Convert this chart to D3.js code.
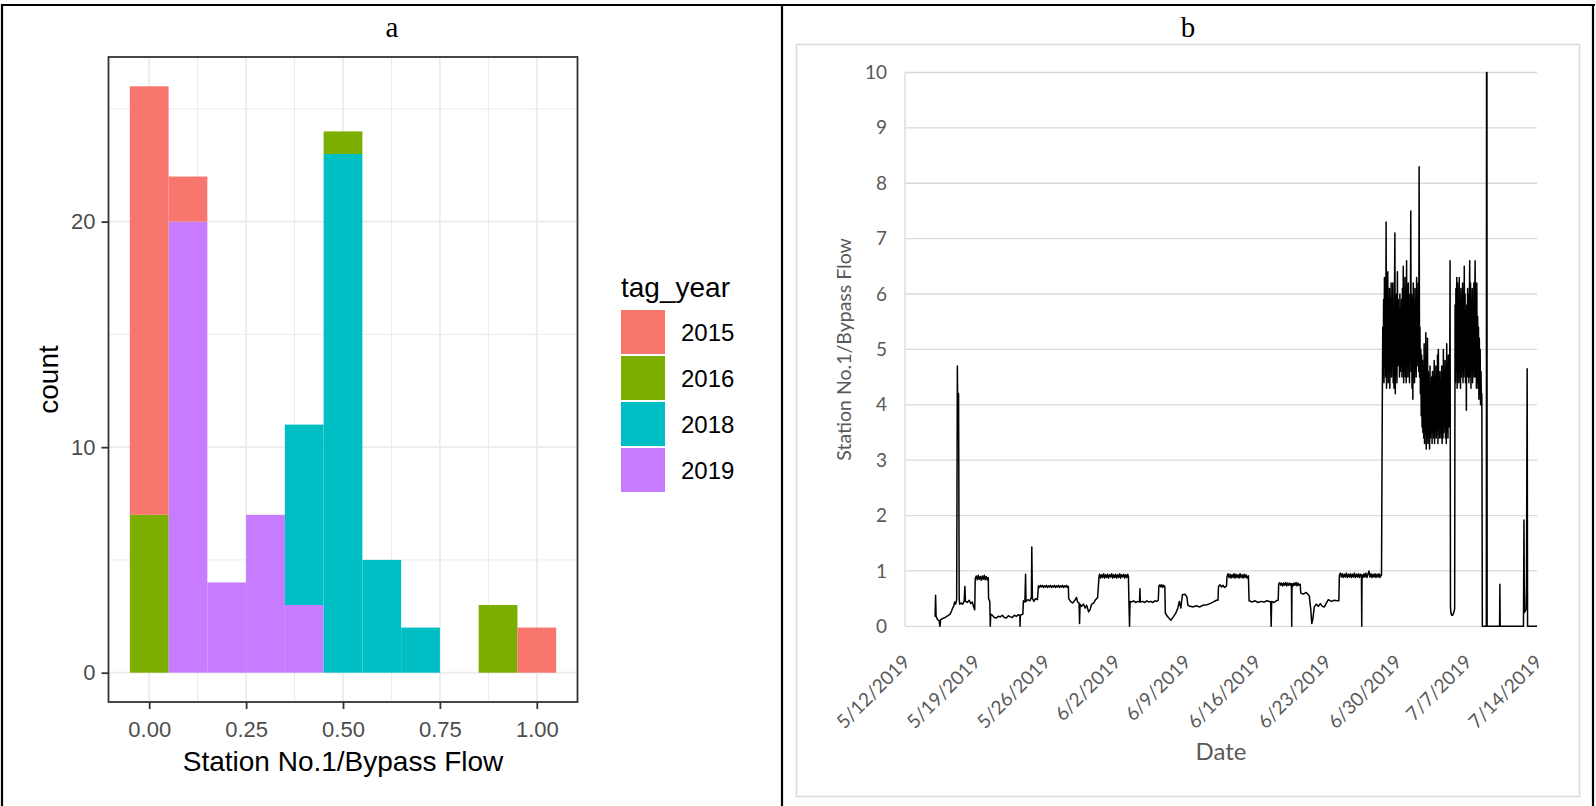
<!DOCTYPE html>
<html>
<head>
<meta charset="utf-8">
<script src="https://cdn.jsdelivr.net/npm/d3@7"></script>
<style>
  html, body { margin: 0; padding: 0; background: #fff; }
  svg { display: block; }
</style>
</head>
<body>
<svg id="fig" width="1596" height="806"></svg>
<script>
// ---------- Panel a: histogram of Station No.1 / bypass flow ratio, stacked by tag year ----------
const binCenters = [0, 0.1, 0.2, 0.3, 0.4, 0.5, 0.6, 0.7, 0.8, 0.9, 1.0];
const tagYears   = ["2015", "2016", "2018", "2019"];
const count2015  = [19, 2, 0, 0, 0, 0, 0, 0, 0, 0, 2];
const count2016  = [7, 0, 0, 0, 0, 1, 0, 0, 0, 3, 0];
const count2018  = [0, 0, 0, 0, 8, 23, 5, 2, 0, 0, 0];
const count2019  = [0, 20, 4, 7, 3, 0, 0, 0, 0, 0, 0];
const yearColors = ["#F8766D", "#7CAE00", "#00BFC4", "#C77CFF"];
const histXTicks = [0, 0.25, 0.5, 0.75, 1.0];
const histXMinor = [0.125, 0.375, 0.625, 0.875];
const histYTicks = [0, 10, 20];
const histYMinor = [5, 15, 25];

// ---------- Panel b: Station No.1 / bypass flow over time (2019) ----------
// readings given as [days after series start, ratio]
const seriesStart = "2019-05-12";
const flowEarly = [
  [3.00,0.17],[3.05,0.56],[3.10,0.18],[3.25,0.12],[3.40,0.10],[3.48,0.00],[3.55,0.12],[3.75,0.14],
  [4.00,0.16],[4.25,0.19],[4.50,0.22],[4.65,0.28],[4.75,0.33],[4.85,0.36],[4.95,0.44],[5.05,0.40],
  [5.15,0.48],[5.22,4.70],[5.28,3.40],[5.34,4.20],[5.40,0.50],[5.45,0.40],[5.60,0.42],[5.75,0.40],
  [5.90,0.46],[5.97,0.72],[6.03,0.45],[6.20,0.43],[6.40,0.47],[6.55,0.41],[6.70,0.44],[6.85,0.35],
  [6.95,0.30],[7.00,0.86],[7.10,0.91],[7.20,0.84],[7.30,0.92],[7.40,0.85],[7.50,0.90],[7.60,0.83],
  [7.70,0.91],[7.80,0.85],[7.90,0.92],[8.00,0.84],[8.10,0.90],[8.20,0.84],[8.30,0.88],[8.33,0.50],
  [8.45,0.45],[8.50,0.00],[8.55,0.22],[8.70,0.20],[8.90,0.16],[9.10,0.15],[9.30,0.18],[9.50,0.17],
  [9.70,0.20],[9.90,0.16],[10.10,0.15],[10.30,0.19],[10.50,0.17],[10.70,0.16],[10.90,0.20],[11.10,0.18],
  [11.30,0.21],[11.45,0.19],[11.47,0.00],[11.50,0.20],[11.75,0.22],[11.80,0.46],[11.95,0.44],[12.02,0.94],
  [12.06,0.45],[12.25,0.48],[12.45,0.46],[12.60,0.52],[12.64,1.43],[12.70,0.50],[12.85,0.45],[13.00,0.50],
  [13.20,0.48],[13.30,0.73],[13.40,0.70],[13.50,0.74],[13.60,0.71],[13.70,0.74],[13.80,0.70],[13.90,0.73],
  [14.00,0.71],[14.10,0.74],[14.20,0.70],[14.30,0.73],[14.40,0.71],[14.50,0.74],[14.60,0.70],[14.70,0.73],
  [14.80,0.71],[14.90,0.74],[15.00,0.70],[15.10,0.73],[15.20,0.71],[15.30,0.74],[15.40,0.70],[15.50,0.73],
  [15.60,0.71],[15.70,0.74],[15.80,0.70],[15.90,0.73],[16.00,0.71],[16.10,0.74],[16.20,0.70],[16.28,0.72],
  [16.32,0.50],[16.50,0.45],[16.70,0.42],[16.90,0.46],[17.10,0.52],[17.20,0.44],[17.35,0.42],[17.40,0.05],
  [17.45,0.40],[17.60,0.36],[17.80,0.40],[17.95,0.33],[18.10,0.38],[18.30,0.26],[18.45,0.30],[18.60,0.40],
  [18.80,0.42],[19.00,0.48],[19.20,0.52],[19.34,0.90],[19.40,0.94],[19.50,0.87],[19.60,0.93],[19.70,0.88],
  [19.80,0.95],[19.90,0.87],[20.00,0.93],[20.10,0.88],[20.20,0.94],[20.30,0.87],[20.40,0.93],[20.50,0.89],
  [20.60,0.95],[20.70,0.87],[20.80,0.93],[20.90,0.88],[21.00,0.94],[21.10,0.87],[21.20,0.93],[21.30,0.88],
  [21.40,0.95],[21.50,0.87],[21.60,0.93],[21.70,0.89],[21.80,0.94],[21.90,0.87],[22.00,0.93],[22.10,0.88],
  [22.20,0.94],[22.27,0.90]
];
const flowMid = [
  [22.32,0.46],[22.38,0.00],[22.44,0.45],[22.60,0.44],[22.80,0.46],[23.00,0.43],[23.20,0.45],[23.38,0.44],
  [23.42,0.68],[23.46,0.44],[23.70,0.45],[23.90,0.43],[24.10,0.46],[24.30,0.44],[24.50,0.45],[24.70,0.43],
  [24.90,0.46],[25.10,0.45],[25.25,0.47],[25.30,0.72],[25.40,0.75],[25.50,0.71],[25.60,0.75],[25.70,0.70],
  [25.80,0.74],[25.90,0.72],[25.95,0.24],[26.15,0.18],[26.30,0.15],[26.50,0.11],[26.75,0.17],[27.00,0.24],
  [27.20,0.33],[27.35,0.45],[27.50,0.33],[27.65,0.57],[27.90,0.58],[28.10,0.53],[28.20,0.38],[28.40,0.36],
  [28.75,0.35],[29.00,0.37],[29.40,0.35],[29.70,0.38],[30.10,0.39],[30.40,0.41],[30.75,0.44],[31.05,0.47],
  [31.20,0.47],[31.25,0.72],[31.40,0.75],[31.55,0.71],[31.70,0.74],[31.85,0.70],[32.05,0.73],[32.10,0.90],
  [32.20,0.95],[32.30,0.88],[32.40,0.94],[32.50,0.87],[32.60,0.93],[32.70,0.88],[32.80,0.95],[32.90,0.87],
  [33.00,0.94],[33.10,0.88],[33.20,0.93],[33.30,0.87],[33.40,0.95],[33.50,0.88],[33.60,0.93],[33.70,0.87],
  [33.80,0.94],[33.90,0.88],[34.00,0.93],[34.10,0.87],[34.23,0.91],[34.30,0.46],[34.60,0.44],[34.90,0.46],
  [35.20,0.43],[35.50,0.45],[35.80,0.44],[36.10,0.46],[36.45,0.44],[36.50,0.00],[36.55,0.45],[36.80,0.43],
  [37.00,0.46],[37.20,0.47],[37.25,0.76],[37.35,0.79],[37.45,0.74],[37.55,0.78],[37.65,0.73],[37.75,0.78],
  [37.85,0.74],[37.95,0.79],[38.05,0.73],[38.15,0.78],[38.25,0.74],[38.35,0.78],[38.45,0.74],[38.52,0.77],
  [38.55,0.00],[38.58,0.77],[38.68,0.73],[38.78,0.78],[38.88,0.74],[38.98,0.79],[39.08,0.73],[39.18,0.78],
  [39.28,0.74],[39.40,0.76],[39.45,0.60],[39.70,0.58],[40.00,0.61],[40.30,0.55],[40.45,0.30],[40.55,0.05],
  [40.65,0.12],[40.80,0.35],[41.00,0.40],[41.20,0.36],[41.40,0.41],[41.60,0.36],[41.80,0.35],[42.00,0.42],
  [42.20,0.48],[42.50,0.45],[42.80,0.47],[43.10,0.46],[43.25,0.46],[43.30,0.92],[43.40,0.96],[43.50,0.89],
  [43.60,0.95],[43.70,0.88],[43.80,0.94],[43.90,0.89],[44.00,0.96],[44.10,0.88],[44.20,0.94],[44.30,0.89],
  [44.40,0.95],[44.50,0.88],[44.60,0.94],[44.70,0.89],[44.80,0.96],[44.90,0.88],[45.00,0.94],[45.10,0.89],
  [45.20,0.95],[45.30,0.88],[45.40,0.94],[45.50,0.91],[45.53,0.00],[45.56,0.93],[45.65,0.88],[45.75,0.95],
  [45.85,0.89],[45.95,0.96],[46.05,0.88],[46.15,0.94],[46.25,1.00],[46.35,0.89],[46.45,0.95],[46.55,0.88],
  [46.65,0.94],[46.75,0.89],[46.85,0.95],[46.95,0.88],[47.05,0.94],[47.15,0.89],[47.25,0.95],[47.35,0.88],
  [47.45,0.93],[47.50,0.92]
];
// hourly readings during the high-ratio period
const surgeStart = "2019-06-28 14:00";
const surgeStepHours = 1;
const surgeValues = [
  4.2,5.4,4.6,5.9,4.4,6.3,4.7,6.0,4.5,7.3,4.3,6.1,
  4.6,6.4,4.4,5.7,4.8,6.1,4.3,5.9,4.6,6.2,4.5,5.8,
  4.7,6.2,4.4,5.6,4.3,6.0,7.1,4.2,5.8,4.6,6.0,4.4,
  6.4,4.7,5.9,4.8,5.6,4.5,6.0,4.6,5.5,4.7,5.9,4.5,
  6.1,4.6,6.5,4.4,5.8,4.6,6.3,4.5,6.0,4.4,6.6,4.7,
  6.1,4.5,6.2,4.8,5.7,4.4,6.0,5.2,7.5,4.6,6.0,4.3,
  5.9,4.1,6.2,4.5,5.8,4.4,6.1,4.6,5.9,4.5,6.3,4.7,
  6.0,4.8,6.2,4.6,8.3,4.5,5.4,4.2,5.0,3.8,4.9,3.6,
  4.8,3.5,4.7,3.4,5.1,3.3,4.6,3.5,5.3,3.2,4.5,3.4,
  5.2,3.3,4.6,3.5,4.4,3.2,4.7,3.4,4.3,3.6,4.5,3.3,
  4.6,3.5,4.2,3.4,4.8,3.3,4.5,3.6,4.7,3.4,4.4,3.5,
  4.9,3.3,5.0,3.6,4.4,3.4,4.6,3.5,4.3,3.4,4.7,3.3,
  4.5,3.4,5.0,3.5,4.6,3.6,4.8,3.4,4.5,3.3,5.1,3.5,
  4.7,3.4,4.9,3.6,4.6,3.8,6.6,0.35,0.25,0.22,0.20,0.21,
  0.20,0.22,0.23,0.25,0.28,0.32,5.8,4.4,6.1,4.6,6.3,4.3,
  6.2,4.5,5.9,4.4,6.3,4.6,5.8,4.3,6.1,4.5,6.0,4.6,
  6.2,4.4,5.9,4.5,6.5,4.7,6.0,4.4,5.7,3.9,5.8,4.6,
  6.1,4.5,6.0,4.4,5.8,6.6,4.5,6.2,4.3,5.9,4.6,6.1,
  4.4,5.8,4.6,6.2,4.5,5.9,6.6,4.5,6.0,4.3,6.2,4.4,
  5.6,4.3,5.4,4.1,5.2,4.2,5.0,4.0,4.6,4.1,4.2
];
const flowTail = [
  [57.55,0.00],[57.95,0.00],[57.97,10.0],[58.01,10.0],[58.03,0.00],[59.27,0.00],[59.30,0.76],[59.33,0.00],
  [61.65,0.00],[61.70,1.92],[61.74,0.25],[61.90,0.30],[61.95,0.75],[62.02,4.65],[62.06,0.00],[63.00,0.00]
];
const dateTicks = ["2019-05-12","2019-05-19","2019-05-26","2019-06-02","2019-06-09",
                   "2019-06-16","2019-06-23","2019-06-30","2019-07-07","2019-07-14"];
const flowYTicks = [0, 1, 2, 3, 4, 5, 6, 7, 8, 9, 10];

// ---------------------------------------------------------------------------------------------
const svg = d3.select("#fig");
const sansR = "'Liberation Sans', Arial, sans-serif";
const sansX = "Lato, 'Open Sans', sans-serif";
const serif = "'Liberation Serif', 'Times New Roman', serif";

// table frame around both panels
const frame = svg.append("g").attr("stroke", "#000").attr("stroke-width", 2.2);
frame.append("line").attr("x1", 1).attr("x2", 1595).attr("y1", 5).attr("y2", 5);
frame.append("line").attr("x1", 2).attr("x2", 2).attr("y1", 4).attr("y2", 806);
frame.append("line").attr("x1", 782).attr("x2", 782).attr("y1", 4).attr("y2", 806);
frame.append("line").attr("x1", 1593).attr("x2", 1593).attr("y1", 4).attr("y2", 806);

svg.append("text").attr("x", 392).attr("y", 37).attr("text-anchor", "middle")
  .attr("font-family", serif).attr("font-size", 29).text("a");
svg.append("text").attr("x", 1188).attr("y", 37).attr("text-anchor", "middle")
  .attr("font-family", serif).attr("font-size", 29).text("b");

// ======================= Panel a =======================
const pa = { left: 108.5, right: 577.5, top: 57, bottom: 702 };
const hx = d3.scaleLinear().domain([-0.105, 1.105]).range([pa.left, pa.right]);
const hy = d3.scaleLinear().domain([-1.3, 27.3]).range([pa.bottom, pa.top]);
const binWidth = 0.1;

const ga = svg.append("g");
// grid
ga.selectAll(".vminor").data(histXMinor).join("line")
  .attr("x1", d => hx(d)).attr("x2", d => hx(d)).attr("y1", pa.top).attr("y2", pa.bottom)
  .attr("stroke", "#EBEBEB").attr("stroke-width", 1);
ga.selectAll(".hminor").data(histYMinor).join("line")
  .attr("y1", d => hy(d)).attr("y2", d => hy(d)).attr("x1", pa.left).attr("x2", pa.right)
  .attr("stroke", "#EBEBEB").attr("stroke-width", 1);
ga.selectAll(".vmajor").data(histXTicks).join("line")
  .attr("x1", d => hx(d)).attr("x2", d => hx(d)).attr("y1", pa.top).attr("y2", pa.bottom)
  .attr("stroke", "#EBEBEB").attr("stroke-width", 1.8);
ga.selectAll(".hmajor").data(histYTicks).join("line")
  .attr("y1", d => hy(d)).attr("y2", d => hy(d)).attr("x1", pa.left).attr("x2", pa.right)
  .attr("stroke", "#EBEBEB").attr("stroke-width", 1.8);

// stacked bars (first level drawn on top, as ggplot stacks)
const countsByYear = { "2015": count2015, "2016": count2016, "2018": count2018, "2019": count2019 };
const rows = binCenters.map((c, i) => {
  const r = { center: c };
  tagYears.forEach(y => r[y] = countsByYear[y][i]);
  return r;
});
const color = d3.scaleOrdinal().domain(tagYears).range(yearColors);
const stacked = d3.stack().keys(tagYears.slice().reverse())(rows);
ga.selectAll(".layer").data(stacked).join("g")
  .attr("fill", d => color(d.key))
  .selectAll("rect").data(d => d.filter(s => s[1] > s[0])).join("rect")
  .attr("x", d => hx(d.data.center - binWidth / 2))
  .attr("width", d => hx(d.data.center + binWidth / 2) - hx(d.data.center - binWidth / 2))
  .attr("y", d => hy(d[1]))
  .attr("height", d => hy(d[0]) - hy(d[1]));

// panel border
ga.append("rect").attr("x", pa.left).attr("y", pa.top)
  .attr("width", pa.right - pa.left).attr("height", pa.bottom - pa.top)
  .attr("fill", "none").attr("stroke", "#333333").attr("stroke-width", 1.8);

// axes
const axA_y = ga.append("g").attr("transform", `translate(${pa.left},0)`)
  .call(d3.axisLeft(hy).tickValues(histYTicks).tickSize(7).tickPadding(6));
const axA_x = ga.append("g").attr("transform", `translate(0,${pa.bottom})`)
  .call(d3.axisBottom(hx).tickValues(histXTicks).tickFormat(d3.format(".2f")).tickSize(7).tickPadding(12));
[axA_y, axA_x].forEach(a => {
  a.select(".domain").remove();
  a.selectAll(".tick line").attr("stroke", "#333333").attr("stroke-width", 1.8);
  a.selectAll(".tick text").attr("fill", "#4D4D4D").attr("font-family", sansR).attr("font-size", 22);
});

ga.append("text").attr("x", (pa.left + pa.right) / 2).attr("y", 771).attr("text-anchor", "middle")
  .attr("font-family", sansR).attr("font-size", 28).attr("fill", "#000")
  .text("Station No.1/Bypass Flow");
ga.append("text").attr("transform", `translate(58,${(pa.top + pa.bottom) / 2}) rotate(-90)`)
  .attr("text-anchor", "middle").attr("font-family", sansR).attr("font-size", 28).attr("fill", "#000")
  .text("count");

// legend
const leg = ga.append("g");
leg.append("text").attr("x", 621).attr("y", 297).attr("font-family", sansR).attr("font-size", 28)
  .text("tag_year");
const keyTop = 310, keyPitch = 46, keySize = 44;
tagYears.forEach((y, i) => {
  leg.append("rect").attr("x", 621).attr("y", keyTop + i * keyPitch)
    .attr("width", keySize).attr("height", keySize).attr("fill", color(y));
  leg.append("text").attr("x", 681).attr("y", keyTop + i * keyPitch + keySize / 2)
    .attr("dy", "0.36em").attr("font-family", sansR).attr("font-size", 24).text(y);
});

// ======================= Panel b =======================
svg.append("rect").attr("x", 796.5).attr("y", 44.5).attr("width", 783).attr("height", 752)
  .attr("fill", "none").attr("stroke", "#D9D9D9").attr("stroke-width", 1.5);

const parseDay = d3.timeParse("%Y-%m-%d");
const parseHour = d3.timeParse("%Y-%m-%d %H:%M");
const t0 = parseDay(seriesStart);
const fromDays = d => new Date(t0.getTime() + d * 864e5);
const tSurge = parseHour(surgeStart);

const series = []
  .concat(flowEarly.map(([d, v]) => ({ date: fromDays(d), value: v })))
  .concat(flowMid.map(([d, v]) => ({ date: fromDays(d), value: v })))
  .concat(surgeValues.map((v, i) => ({ date: d3.timeHour.offset(tSurge, i * surgeStepHours), value: v })))
  .concat(flowTail.map(([d, v]) => ({ date: fromDays(d), value: v })));

const pb = { left: 905, right: 1537, top: 72.5, bottom: 626.3 };
const bx = d3.scaleTime().domain([parseDay(dateTicks[0]), parseDay(dateTicks[dateTicks.length - 1])])
  .range([pb.left, pb.right]);
const by = d3.scaleLinear().domain([0, 10]).range([pb.bottom, pb.top]);

const gb = svg.append("g");
gb.selectAll(".grid").data(flowYTicks).join("line")
  .attr("x1", pb.left).attr("x2", pb.right).attr("y1", d => by(d)).attr("y2", d => by(d))
  .attr("stroke", "#D9D9D9").attr("stroke-width", 1.3);
gb.append("line").attr("x1", pb.left).attr("x2", pb.left).attr("y1", pb.top).attr("y2", pb.bottom)
  .attr("stroke", "#D9D9D9").attr("stroke-width", 1.3);

const axB_y = gb.append("g").attr("transform", `translate(${pb.left},0)`)
  .call(d3.axisLeft(by).tickValues(flowYTicks).tickSize(0).tickPadding(18));
const axB_x = gb.append("g").attr("transform", `translate(0,${pb.bottom})`)
  .call(d3.axisBottom(bx).tickValues(dateTicks.map(parseDay)).tickFormat(d3.timeFormat("%-m/%-d/%Y")).tickSize(0));
[axB_y, axB_x].forEach(a => {
  a.select(".domain").remove();
  a.selectAll(".tick text").attr("fill", "#595959").attr("font-family", sansX).attr("font-size", 19);
});
axB_x.selectAll(".tick text")
  .attr("x", 0).attr("y", 0).attr("dy", "0.35em")
  .attr("text-anchor", "end")
  .attr("transform", "translate(1,32) rotate(-45)");

gb.append("path").datum(series)
  .attr("fill", "none").attr("stroke", "#000").attr("stroke-width", 1.5).attr("stroke-linejoin", "round")
  .attr("d", d3.line().x(d => bx(d.date)).y(d => by(d.value)));

gb.append("text").attr("x", (pb.left + pb.right) / 2).attr("y", 760).attr("text-anchor", "middle")
  .attr("font-family", sansX).attr("font-size", 24).attr("fill", "#595959").text("Date");
gb.append("text").attr("transform", `translate(851,${(pb.top + pb.bottom) / 2}) rotate(-90)`)
  .attr("text-anchor", "middle").attr("font-family", sansX).attr("font-size", 19.5).attr("fill", "#595959")
  .text("Station No.1/Bypass Flow");
</script>
</body>
</html>
